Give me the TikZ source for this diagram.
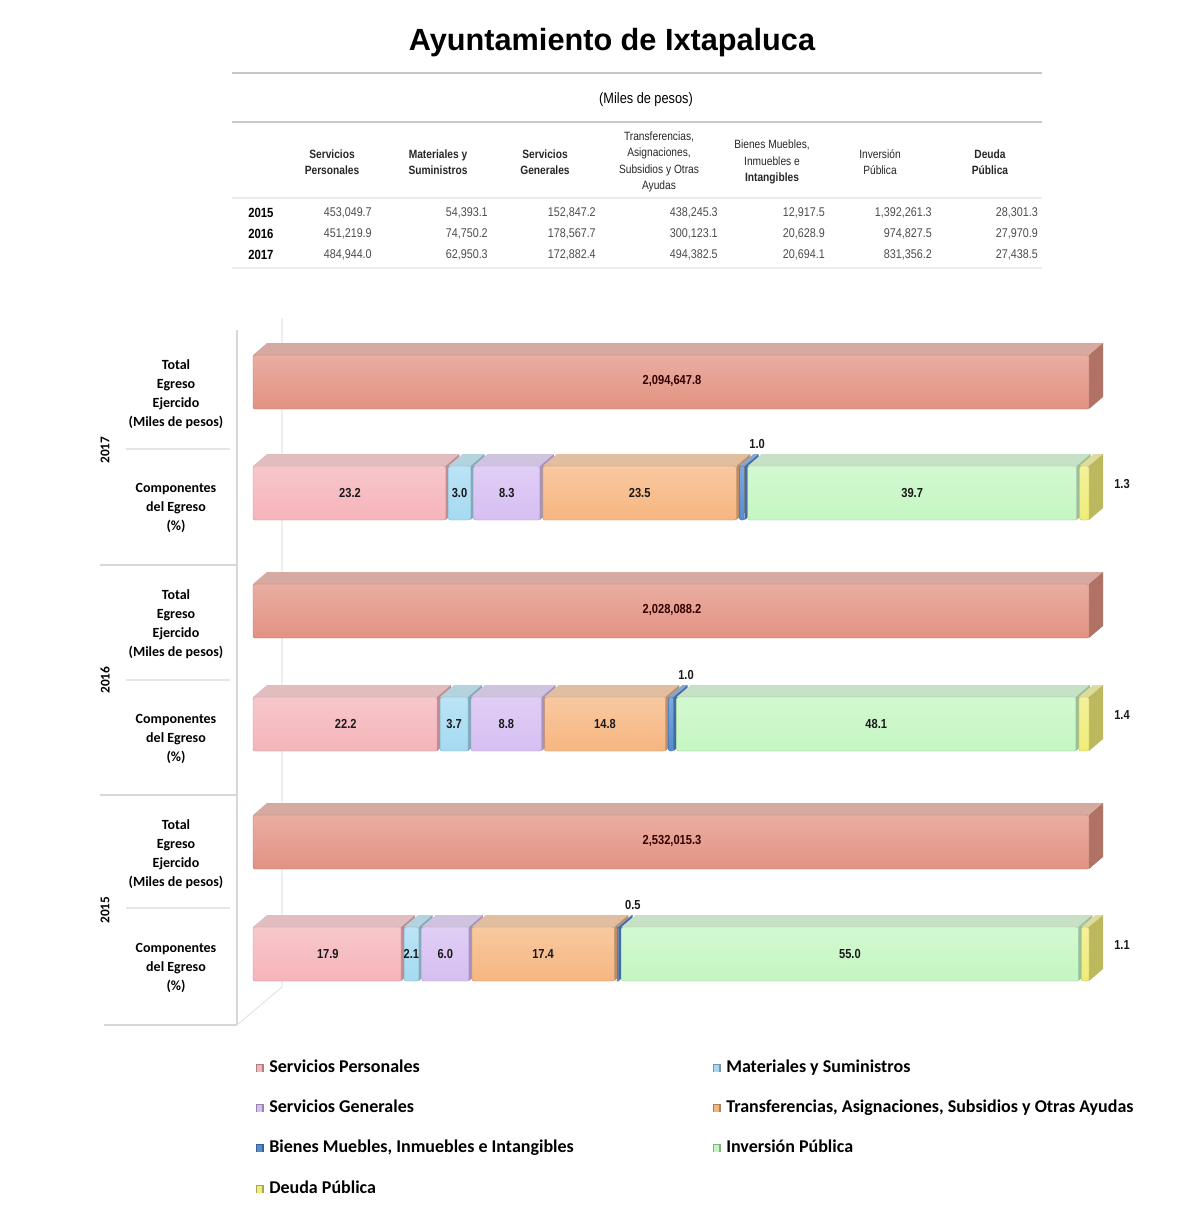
\documentclass[tikz,border=0pt]{standalone}
\usepackage{fontspec}
\setmainfont{Liberation Sans}
\newfontfamily\narrowf[FakeStretch=0.85]{Liberation Sans}
\newfontfamily\calf{Carlito}
\definecolor{spF}{RGB}{245,180,186}
\definecolor{msF}{RGB}{165,218,242}
\definecolor{sgF}{RGB}{214,190,242}
\definecolor{trF}{RGB}{246,182,128}
\definecolor{bmF}{RGB}{84,140,210}
\definecolor{ipF}{RGB}{196,246,194}
\definecolor{dpF}{RGB}{240,236,120}
\definecolor{totF}{RGB}{226,146,130}
\definecolor{topgray}{RGB}{200,200,200}
\definecolor{rulegray}{RGB}{215,215,215}
\newcommand\ixseg[4]{%
  \pgfmathsetmacro\ixa{253+8.36*#1+(#1>0)*1.5}%
  \pgfmathsetmacro\ixb{253+8.36*#2-(#2<100)*1.5}%
  \fill[#4!55!topgray] (\ixa,#3) -- (\ixa+14,#3-12) -- (\ixb+14,#3-12) -- (\ixb,#3) -- cycle;
  \fill[#4!78!black] (\ixb,#3) -- (\ixb+14,#3-12) -- (\ixb+14,#3+42) -- (\ixb,#3+54) -- cycle;
  \shade[top color=#4!75!white, bottom color=#4, draw=#4!80!black, line width=0.3pt, rounded corners=1.5pt] (\ixa,#3) rectangle (\ixb,#3+54);
}
\tikzset{
  tblhead/.style={font=\narrowf\fontsize{9}{12.4}\selectfont, align=center, inner sep=0pt, text=black!85},
  tblnum/.style={font=\narrowf\fontsize{9.5}{11}\selectfont, anchor=east, inner sep=0pt, text=black!70},
  tblyear/.style={font=\narrowf\bfseries\fontsize{10}{11}\selectfont, anchor=west, inner sep=0pt},
  barlbl/.style={font=\narrowf\bfseries\fontsize{9.8}{11}\selectfont, inner sep=0pt, text=black!90},
  catlbl/.style={font=\calf\bfseries\fontsize{10.5}{14.2}\selectfont, align=center, inner sep=0pt},
  yearlbl/.style={font=\calf\bfseries\fontsize{10}{12}\selectfont, rotate=90, inner sep=0pt},
  leglbl/.style={font=\calf\bfseries\fontsize{13.5}{16}\selectfont, anchor=base west, inner sep=0pt},
  rule/.style={draw=rulegray, line width=0.8pt},
}
\begin{document}
\begin{tikzpicture}[x=0.75pt,y=-0.75pt]
\useasboundingbox (0,0) rectangle (1199,1214);
% title and table
\node[font=\bfseries\fontsize{23}{28}\selectfont, inner sep=0pt] (title) at (612,43) {Ayuntamiento de Ixtapaluca};
\draw[draw=black!22, line width=1.4pt] (232,73) -- (1042,73);
\draw[draw=black!22, line width=1.4pt] (232,122) -- (1042,122);
\draw[draw=black!8, line width=1pt] (232,198) -- (1042,198);
\draw[draw=black!8, line width=1pt] (232,268) -- (1042,268);
\node[font=\narrowf\fontsize{11.25}{13}\selectfont, inner sep=0pt] (miles) at (646,100) {(Miles de pesos)};
\node[tblhead] (h1) at (332,162) {\bfseries Servicios\\\bfseries Personales};
\node[tblhead] (h2) at (438,162) {\bfseries Materiales y\\\bfseries Suministros};
\node[tblhead] (h3) at (545,162) {\bfseries Servicios\\\bfseries Generales};
\node[tblhead] (h4) at (659,162) {Transferencias,\\Asignaciones,\\Subsidios y Otras\\Ayudas};
\node[tblhead] (h5) at (772,162) {Bienes Muebles,\\Inmuebles e\\\bfseries Intangibles};
\node[tblhead] (h6) at (880,162) {Inversión\\Pública};
\node[tblhead] (h7) at (990,162) {\bfseries Deuda\\\bfseries Pública};
\foreach \yr/\yy/\vA/\vB/\vC/\vD/\vE/\vF/\vG in {
  2015/213/453{,}049.7/54{,}393.1/152{,}847.2/438{,}245.3/12{,}917.5/1{,}392{,}261.3/28{,}301.3,
  2016/234/451{,}219.9/74{,}750.2/178{,}567.7/300{,}123.1/20{,}628.9/974{,}827.5/27{,}970.9,
  2017/255/484{,}944.0/62{,}950.3/172{,}882.4/494{,}382.5/20{,}694.1/831{,}356.2/27{,}438.5}{
  \node[tblyear] (y\yr) at (248,\yy) {\yr};
  \node[tblnum] (n\yr a) at (372,\yy) {\vA};
  \node[tblnum] (n\yr b) at (488,\yy) {\vB};
  \node[tblnum] (n\yr c) at (596,\yy) {\vC};
  \node[tblnum] (n\yr d) at (718,\yy) {\vD};
  \node[tblnum] (n\yr e) at (825,\yy) {\vE};
  \node[tblnum] (n\yr f) at (932,\yy) {\vF};
  \node[tblnum] (n\yr g) at (1038,\yy) {\vG};
}
% chart frame
\draw[rule] (237,330) -- (237,1025);
\draw[draw=black!10, line width=0.8pt] (282,318) -- (282,987) -- (237,1025);
\draw[rule] (100,565) -- (237,565);
\draw[rule] (100,795) -- (237,795);
\draw[rule] (104,1025) -- (237,1025);
\draw[draw=black!10, line width=0.8pt] (126,449) -- (230,449);
\draw[draw=black!10, line width=0.8pt] (126,680) -- (230,680);
\draw[draw=black!10, line width=0.8pt] (126,908) -- (230,908);
% category labels
\node[catlbl] (t17) at (176,394) {Total\\Egreso\\Ejercido\\(Miles de pesos)};
\node[catlbl] (c17) at (176,508) {Componentes\\del Egreso\\(\%)};
\node[catlbl] (t16) at (176,624) {Total\\Egreso\\Ejercido\\(Miles de pesos)};
\node[catlbl] (c16) at (176,739) {Componentes\\del Egreso\\(\%)};
\node[catlbl] (t15) at (176,854) {Total\\Egreso\\Ejercido\\(Miles de pesos)};
\node[catlbl] (c15) at (176,968) {Componentes\\del Egreso\\(\%)};
\node[yearlbl] (yr17) at (105,450) {2017};
\node[yearlbl] (yr16) at (105,680) {2016};
\node[yearlbl] (yr15) at (105,910) {2015};
% total bars
\ixseg{0}{100}{355}{totF}
\node[barlbl, text=black!80!red] (tot17) at (672,381) {2,094,647.8};
\ixseg{0}{100}{584}{totF}
\node[barlbl, text=black!80!red] (tot16) at (672,610) {2,028,088.2};
\ixseg{0}{100}{815}{totF}
\node[barlbl, text=black!80!red] (tot15) at (672,841) {2,532,015.3};
% component bars
\foreach \ya/\yb/\yc/\yd/\ye/\yf/\yt/\yr/\la/\lb/\lc/\ld/\lf/\le/\lg in {
  23.2/26.2/34.5/58.0/59.0/98.7/466/17/23.2/3.0/8.3/23.5/39.7/1.0/1.3,
  22.2/25.9/34.7/49.5/50.5/98.6/697/16/22.2/3.7/8.8/14.8/48.1/1.0/1.4,
  17.9/20.0/26.0/43.4/43.9/98.9/927/15/17.9/2.1/6.0/17.4/55.0/0.5/1.1}{
  \ixseg{0}{\ya}{\yt}{spF}
  \ixseg{\ya}{\yb}{\yt}{msF}
  \ixseg{\yb}{\yc}{\yt}{sgF}
  \ixseg{\yc}{\yd}{\yt}{trF}
  \ixseg{\yd}{\ye}{\yt}{bmF}
  \ixseg{\ye}{\yf}{\yt}{ipF}
  \ixseg{\yf}{100}{\yt}{dpF}
  \node[barlbl] (p\yr a) at ({253+4.18*\ya},\yt+27) {\la};
  \node[barlbl] (p\yr b) at ({253+4.18*(\ya+\yb)},\yt+27) {\lb};
  \node[barlbl] (p\yr c) at ({253+4.18*(\yb+\yc)},\yt+27) {\lc};
  \node[barlbl] (p\yr d) at ({253+4.18*(\yc+\yd)},\yt+27) {\ld};
  \node[barlbl] (p\yr f) at ({253+4.18*(\ye+\yf)},\yt+27) {\lf};
  \node[barlbl] (p\yr e) at ({253+4.18*(\yd+\ye)+15},\yt-22) {\le};
  \node[barlbl] (p\yr g) at (1122,\yt+18) {\lg};
}
% legend
\foreach \nm/\col/\lx/\ly/\txt in {
  la/spF/256/1066/Servicios Personales,
  lb/msF/713/1066/Materiales y Suministros,
  lc/sgF/256/1106/Servicios Generales,
  ld/trF/713/1106/{Transferencias, Asignaciones, Subsidios y Otras Ayudas},
  le/bmF/256/1146/{Bienes Muebles, Inmuebles e Intangibles},
  lf/ipF/713/1146/Inversión Pública,
  lg/dpF/256/1187/Deuda Pública}{
  \fill[\col!70!black] (\lx,\ly-2) rectangle (\lx+8,\ly+6);
  \fill[\col] (\lx+1,\ly-1) rectangle (\lx+6,\ly+6);
  \node[leglbl] (\nm) at (\lx+13,\ly+6) {\txt};
}
\end{tikzpicture}
\end{document}
